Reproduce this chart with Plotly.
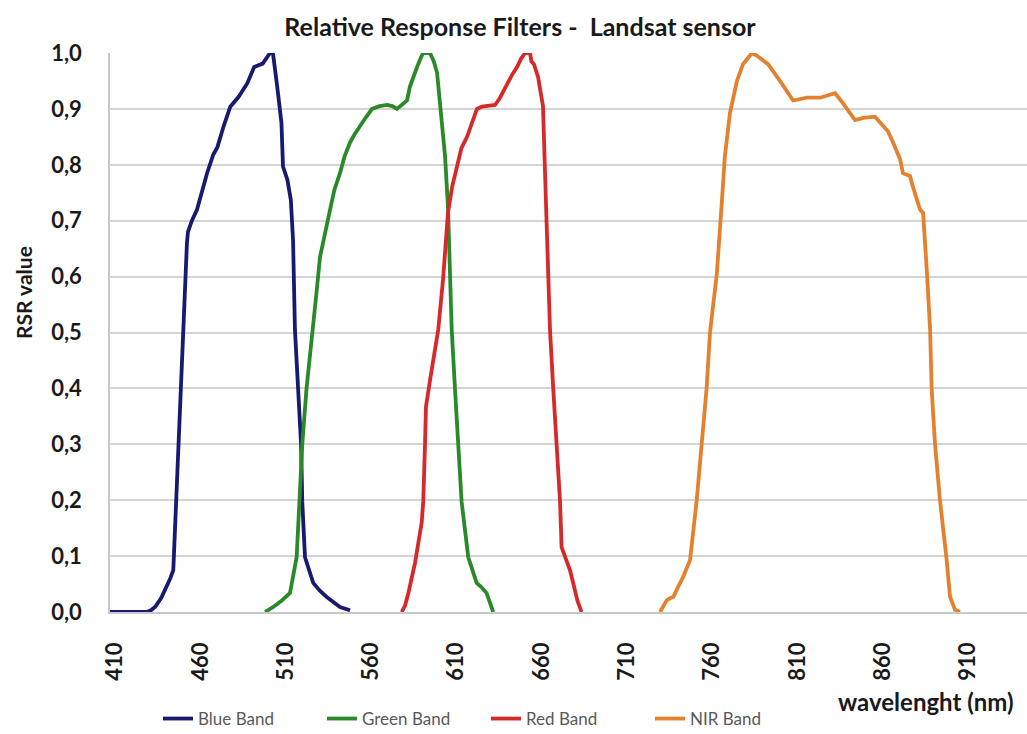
import plotly.graph_objects as go

# ---------------- data ----------------
blue_wl = [407, 428.5, 431, 433.4, 437, 440.2, 442.3, 444.1, 445.7, 447, 448.4, 450, 451.3, 452.1,
           452.7, 455, 458, 460, 463.9, 467.5, 470, 473.5, 477.5, 482.5, 487.5, 491.5, 496.5, 500.8,
           502.5, 505, 507.5, 508.4, 511, 513, 514.3, 515.4, 517.4, 519, 519.7, 521.3, 526.1, 530,
           534, 541.8, 547.7]
blue_rsr = [0, 0, 0.003, 0.009, 0.025, 0.045, 0.06, 0.075, 0.197, 0.30, 0.40, 0.505, 0.60, 0.66,
            0.68, 0.70, 0.72, 0.743, 0.785, 0.818, 0.832, 0.868, 0.904, 0.922, 0.946, 0.975, 0.981, 1.0,
            1.0, 0.94, 0.875, 0.797, 0.773, 0.737, 0.665, 0.505, 0.40, 0.30, 0.197, 0.098, 0.052, 0.038,
            0.027, 0.009, 0.003]

green_wl = [497.9, 502.7, 507.5, 512.5, 516.4, 517.9, 519.7, 522.2, 526.1, 528, 530.1, 533, 536,
            538.5, 541.8, 544.5, 547.7, 550.5, 553.5, 557, 560.6, 565, 569.4, 572.5, 575.2, 578,
            581.1, 582.8, 585, 587, 589, 590.5, 594.6, 596.8, 598.7, 600.4, 602, 603.4, 605.1, 606.3,
            607.3, 609.2, 611.1, 613.1, 617, 621.9, 624.5, 627.7, 631.6]
green_rsr = [0, 0.009, 0.02, 0.034, 0.098, 0.197, 0.30, 0.40, 0.505, 0.57, 0.635, 0.68, 0.72,
             0.755, 0.785, 0.815, 0.84, 0.855, 0.87, 0.885, 0.90, 0.905, 0.907, 0.905, 0.90, 0.908,
             0.915, 0.94, 0.96, 0.975, 0.99, 1.0, 1.0, 0.985, 0.965, 0.915, 0.865, 0.815, 0.725, 0.605,
             0.505, 0.40, 0.30, 0.197, 0.098, 0.052, 0.045, 0.034, 0]

red_wl = [578, 580, 581.9, 584, 585.8, 589.7, 590.6, 591.6, 592.2, 594.6, 597, 599.4, 602.2, 604,
          605.1, 607.5, 610.4, 613, 616.3, 619, 622.1, 625, 628, 632.7, 635.6, 639.7, 642.5, 645.6,
          648, 650.3, 653.2, 654, 655.5, 657.9, 660.8, 662, 663.7, 664.9, 666.8, 668.8, 670.8, 671.7,
          674, 676.6, 678.5, 681, 683.4]
red_rsr = [0, 0.012, 0.034, 0.06, 0.088, 0.16, 0.197, 0.295, 0.367, 0.415, 0.465, 0.505, 0.594, 0.67,
           0.714, 0.76, 0.80, 0.83, 0.85, 0.875, 0.90, 0.904, 0.905, 0.907, 0.92, 0.946, 0.96, 0.975,
           0.99, 1.0, 1.0, 0.985, 0.98, 0.957, 0.905, 0.785, 0.605, 0.505, 0.40, 0.30, 0.197, 0.116,
           0.095, 0.075, 0.052, 0.02, 0]

nir_wl = [729.4, 731, 733.3, 735.5, 737.2, 740, 743, 747, 749, 750.9, 753.8, 756.7, 758.7, 762.7,
          765.7, 767.4, 770.4, 774.5, 778, 783.3, 786.3, 792.7, 799.7, 807.4, 815.6, 823.2, 832,
          836.7, 843.7, 848.4, 855.4, 858.3, 863, 866, 870.1, 871.8, 875.9, 877.7, 881.8, 883.6,
          884.7, 885.9, 887.7, 888.6, 890.6, 893.5, 897.4, 899.4, 902.3, 905.2]
nir_rsr = [0, 0.01, 0.021, 0.025, 0.027, 0.045, 0.063, 0.093, 0.15, 0.20, 0.30, 0.40, 0.50, 0.605,
           0.737, 0.815, 0.893, 0.95, 0.98, 1.0, 0.995, 0.98, 0.95, 0.915, 0.92, 0.92, 0.928,
           0.91, 0.88, 0.884, 0.886, 0.877, 0.86, 0.84, 0.81, 0.785, 0.78, 0.76, 0.72, 0.714,
           0.665, 0.605, 0.505, 0.40, 0.30, 0.20, 0.093, 0.027, 0.004, 0]

series_names = ["Blue Band", "Green Band", "Red Band", "NIR Band"]
series_colors = ["#191970", "#2a8a2a", "#d62a2a", "#e4812e"]

x_ticks = [410, 460, 510, 560, 610, 660, 710, 760, 810, 860, 910]
y_ticks = [0.0, 0.1, 0.2, 0.3, 0.4, 0.5, 0.6, 0.7, 0.8, 0.9, 1.0]

FONT = "Lato"

fig = go.Figure()
for name, col, xs, ys in zip(series_names, series_colors,
                             [blue_wl, green_wl, red_wl, nir_wl],
                             [blue_rsr, green_rsr, red_rsr, nir_rsr]):
    fig.add_trace(go.Scatter(x=xs, y=ys, mode="lines", name=name,
                             line=dict(color=col, width=3.8)))

fig.update_layout(
    width=1027, height=734,
    margin=dict(l=110, r=0, t=53, b=122, autoexpand=False),
    plot_bgcolor="white", paper_bgcolor="white",
    separators=", ",
    font=dict(family=FONT, color="#1a1a1a"),
    title=dict(text="Relative Response Filters -  Landsat sensor",
               x=520 / 1027, xanchor="center", y=1 - 27 / 734, yanchor="middle",
               font=dict(family=FONT, size=25, weight="bold", color="#1a1a1a")),
    showlegend=True,
    legend=dict(orientation="h", x=(158 - 110) / 917, xanchor="left",
                y=(612 - 719) / 559, yanchor="middle",
                font=dict(family=FONT, size=17, color="#595959"),
                entrywidth=119, entrywidthmode="pixels",
                bgcolor="rgba(0,0,0,0)"),
)

fig.update_xaxes(range=[407, 944.5], tickmode="array", tickvals=x_ticks,
                 ticktext=[str(v) for v in x_ticks], tickangle=-90,
                 tickfont=dict(family=FONT, size=22, weight="bold", color="#1a1a1a"),
                 showgrid=False, zeroline=False, showline=True, linecolor="#c8c8c8",
                 linewidth=1.5, ticks="", ticklabelstandoff=20)

fig.update_yaxes(range=[0, 1], tickmode="array", tickvals=y_ticks, tickformat=".1f",
                 tickfont=dict(family=FONT, size=22, weight="bold", color="#1a1a1a"),
                 showgrid=True, gridcolor="#d4d4d4", gridwidth=1.5, zeroline=False,
                 showline=True, linecolor="#c8c8c8", linewidth=1.5, ticks="",
                 ticklabelstandoff=22)

fig.add_annotation(text="RSR value", xref="paper", yref="paper",
                   x=(23 - 110) / 917, y=(612 - 293) / 559, textangle=-90,
                   showarrow=False, xanchor="center", yanchor="middle",
                   font=dict(family=FONT, size=21, weight="bold", color="#1a1a1a"))
fig.add_annotation(text="wavelenght (nm)", xref="paper", yref="paper",
                   x=(925.5 - 110) / 917, y=(612 - 701) / 559,
                   showarrow=False, xanchor="center", yanchor="middle",
                   font=dict(family=FONT, size=24, weight="bold", color="#1a1a1a"))

fig.write_html("out.html")
